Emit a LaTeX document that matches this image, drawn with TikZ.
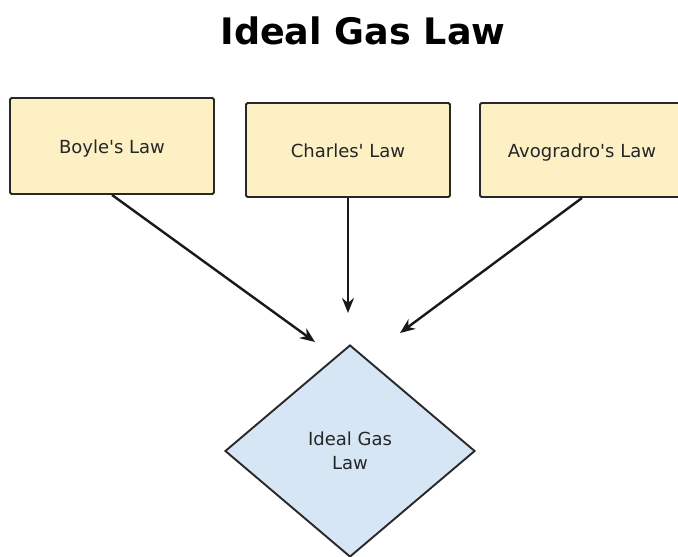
\documentclass[tikz,border=0pt]{standalone}
\usepackage{fontspec}
\setmainfont{DejaVu Sans}
\usetikzlibrary{shapes.geometric,arrows.meta}
\definecolor{lawfill}{RGB}{252,240,196}
\definecolor{gasfill}{RGB}{214,230,244}
\definecolor{edgegray}{RGB}{40,40,40}

\begin{document}
\begin{tikzpicture}[
  x=1pt,
  y=-1pt,
  >={Stealth[length=15pt,width=12pt]},
  every node/.style={font=\fontsize{18}{24}\selectfont, text=black!85},
  law/.style={draw=edgegray, line width=1.9pt, rounded corners=1.5pt, fill=lawfill, minimum width=204pt, minimum height=96pt, text height=15pt, text depth=0pt, align=center},
  gas/.style={draw=edgegray, line width=1.9pt, diamond, fill=gasfill, minimum width=250pt, minimum height=212pt, inner sep=0pt, align=center},
  link/.style={->, line width=2.4pt, black!90}
]
\useasboundingbox (0,0) rectangle (678,557);

\node[font=\fontsize{36.5}{42}\selectfont\bfseries, text=black] (title) at (363,31) {Ideal Gas Law};

\node[law] (boyle) at (112,146) {Boyle\textquotesingle s Law};
\node[law, minimum height=94pt] (charles) at (348,150) {Charles\textquotesingle\ Law};
\node[law, minimum height=94pt] (avogadro) at (582,150) {Avogradro\textquotesingle s Law};

\node[gas] (ideal) at (350,451) {Ideal Gas\\Law};

\coordinate (tipb) at (315,342);
\coordinate (tipc) at (348,313);
\coordinate (tipa) at (400,333);

\draw[link] (boyle.south) -- (tipb);
\draw[link] (charles.south) -- (tipc);
\draw[link] (avogadro.south) -- (tipa);
\end{tikzpicture}
\end{document}
